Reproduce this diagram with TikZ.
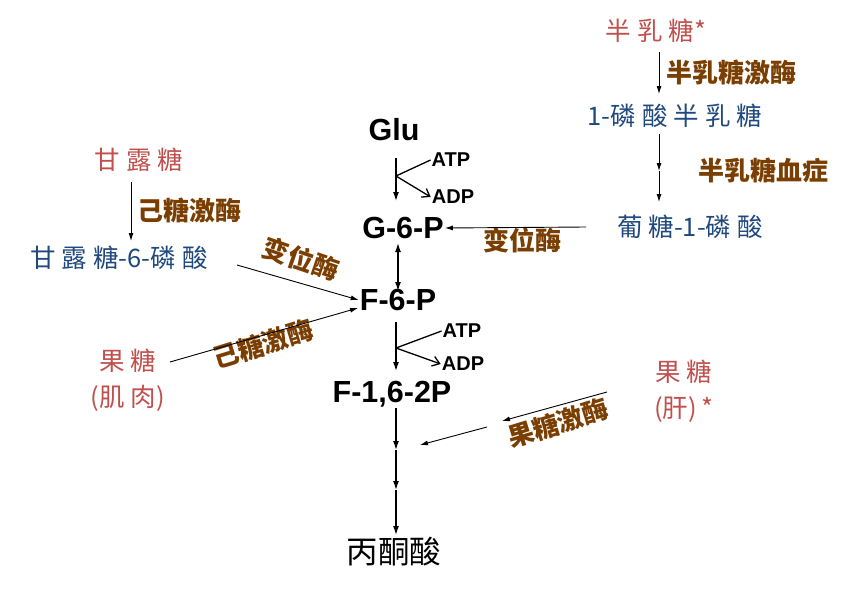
\documentclass[tikz,border=0pt]{standalone}
\usepackage{fontspec}
\setmainfont{Liberation Sans}
\newfontfamily\cjk{Noto Sans CJK SC}
\newcommand\ks{\kern6pt}
\usetikzlibrary{arrows.meta}
\definecolor{sred}{RGB}{192,80,77}
\definecolor{sblue}{RGB}{31,73,125}
\definecolor{sbrown}{RGB}{122,62,0}
\begin{document}
\begin{tikzpicture}[x=1pt,y=-1pt,
  met/.style={font=\bfseries\fontsize{30.5}{32}\selectfont, inner sep=1pt},
  cof/.style={font=\bfseries\fontsize{20}{22}\selectfont, inner sep=1pt},
  redt/.style={text=sred, font=\cjk\fontsize{25.5}{36}\selectfont, align=center, inner sep=1pt},
  bluet/.style={text=sblue, font=\cjk\fontsize{25.5}{30}\selectfont, inner sep=1pt},
  enz/.style={text=sbrown, font=\cjk\bfseries\fontsize{26}{28}\selectfont, inner sep=1pt},
  arr/.style={-{Latex[length=9pt,width=6pt]}, line width=1.3pt},
  arrb/.style={{Latex[length=9pt,width=6pt]}-{Latex[length=9pt,width=6pt]}, line width=1.3pt},
  thin/.style={-{Latex[length=8pt,width=5pt]}, line width=0.9pt},
  open/.style={-{Straight Barb[length=7pt,width=10pt]}, line width=1.3pt},
  plain/.style={line width=1.3pt}]
\useasboundingbox (0,0) rectangle (846,589);

% main chain
\node[met] (glu) at (394,130) {Glu};
\node[cof] (atp1) at (451,160) {ATP};
\node[cof] (adp1) at (453,197) {ADP};
\node[met] (g6p) at (403,228) {G-6-P};
\node[met] (f6p) at (398,300) {F-6-P};
\node[cof] (atp2) at (462,331) {ATP};
\node[cof] (adp2) at (463,364) {ADP};
\node[met] (f16) at (392,394) {F-1,6-2P};
\node[font=\cjk\fontsize{31.5}{32}\selectfont, inner sep=1pt] (pyr) at (394,552) {丙酮酸};

\coordinate (a1) at (396,158);
\coordinate (a2) at (396,201);
\coordinate (b1) at (396,176);
\draw[arr] (a1) -- (a2);
\draw[plain] (b1) -- (atp1.west);
\draw[open] (b1) -- (adp1.west);

\coordinate (d1) at (398,243);
\coordinate (d2) at (398,291);
\draw[arrb] (d1) -- (d2);

\coordinate (e1) at (396,322);
\coordinate (e2) at (396,371);
\coordinate (e3) at (396,348);
\draw[arr] (e1) -- (e2);
\draw[plain] (e3) -- (atp2.west);
\draw[open] (e3) -- (adp2.west);

\coordinate (p0) at (396,408);
\coordinate (p1) at (396,450);
\coordinate (p2) at (396,490);
\coordinate (p3) at (396,535);
\draw[arr] (p0) -- (p1);
\draw[arr] (p1) -- (p2);
\draw[arr] (p2) -- (p3);

% galactose branch
\node[redt] (gal) at (656,31) {半\ks 乳\ks 糖*};
\node[enz] (galk) at (731,72) {半乳糖激酶};
\node[bluet] (gal1p) at (675,116) {1-磷\ks 酸\ks 半\ks 乳\ks 糖};
\node[enz] (galem) at (763,170) {半乳糖血症};
\node[bluet] (g1p) at (690,227) {葡\ks 糖-1-磷\ks 酸};
\node[enz] (mut1) at (522,240) {变位酶};
\coordinate (g1) at (659,52);
\coordinate (g2) at (659,94);
\draw[thin] (g1) -- (g2);
\coordinate (h1) at (659,134);
\coordinate (h2) at (659,171);
\coordinate (h3) at (659,202);
\draw[thin] (h1) -- (h2);
\draw[thin] (h2) -- (h3);
\coordinate (i1) at (586,227);
\draw[thin] (i1) -- (g6p.east);

% mannose branch
\node[redt] (man) at (139,160) {甘\ks 露\ks 糖};
\node[enz] (hk1) at (189,210) {己糖激酶};
\node[bluet] (m6p) at (119,258) {甘\ks 露\ks 糖-6-磷\ks 酸};
\node[enz, rotate=-19] (mut2) at (301,259) {变位酶};
\coordinate (j1) at (131,182);
\coordinate (j2) at (131,241);
\draw[thin] (j1) -- (j2);
\coordinate (k1) at (237,265);
\draw[thin] (k1) -- (f6p.west);

% fructose (muscle)
\node[redt] (frum) at (128,380) {果\ks 糖\\(肌\ks 肉)};
\node[enz, rotate=17] (hk2) at (263,344) {己糖激酶};
\coordinate (l1) at (170,362);
\coordinate (l2) at (358,308);
\draw[thin] (l1) -- (l2);

% fructose (liver)
\node[redt] (frul) at (684,391) {果\ks 糖\\(肝)\kern5pt*};
\node[enz, rotate=17] (fk) at (558,423) {果糖激酶};
\coordinate (m1) at (607,392);
\coordinate (m2) at (502,421);
\coordinate (m3) at (487,427);
\coordinate (m4) at (420,445);
\draw[thin] (m1) -- (m2);
\draw[thin] (m3) -- (m4);
\end{tikzpicture}
\end{document}
